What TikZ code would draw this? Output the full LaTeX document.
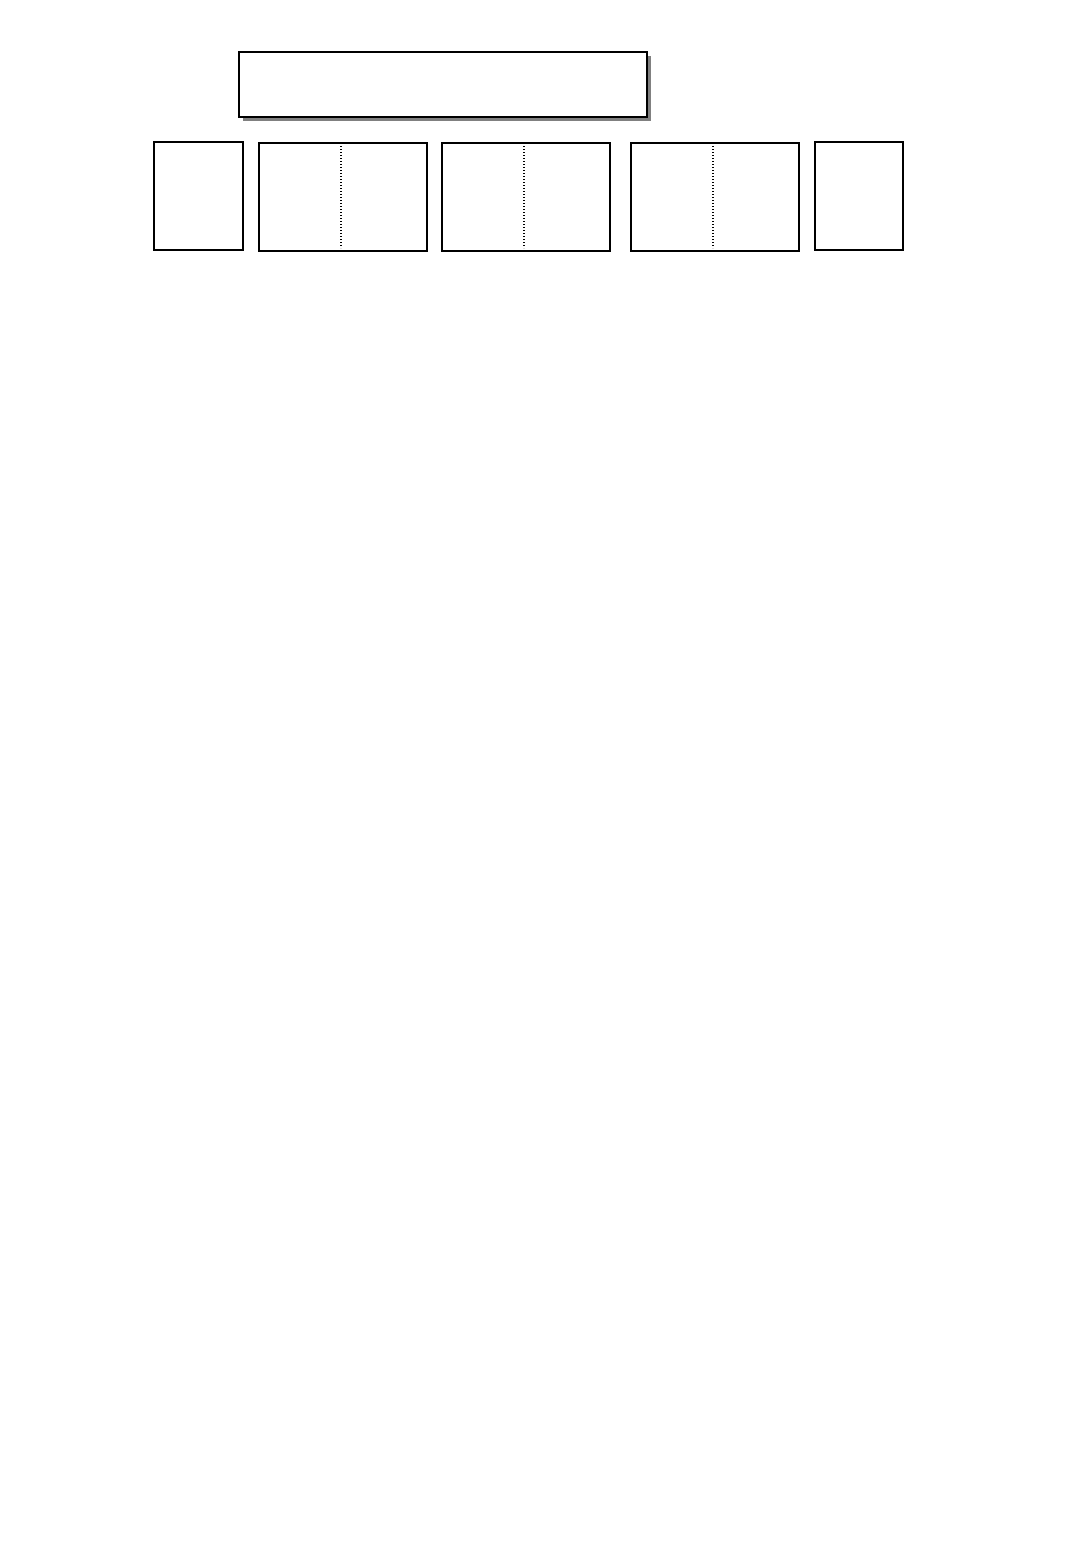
\documentclass[tikz,border=0pt]{standalone}
\usetikzlibrary{shadows}
\begin{document}
\begin{tikzpicture}[x=1pt,y=-1pt,
  box/.style={draw=black, line width=2pt, fill=white, inner sep=0pt, anchor=north west},
  shadowbox/.style={box, drop shadow={shadow xshift=4pt, shadow yshift=-4pt, fill=black!50, opacity=1}},
  divider/.style={black, line width=1.4pt, dash pattern=on 1.4pt off 1.6pt}]
\useasboundingbox (0,0) rectangle (1080,1560);
\fill[white] (0,0) rectangle (1080,1560);
\node[shadowbox, minimum width=408pt, minimum height=65pt] (title) at (238,51) {};
\node[box, minimum width=89pt, minimum height=108pt] (b1) at (153,141) {};
\node[box, minimum width=168pt, minimum height=108pt] (b2) at (258,142) {};
\node[box, minimum width=168pt, minimum height=108pt] (b3) at (441,142) {};
\node[box, minimum width=168pt, minimum height=108pt] (b4) at (630,142) {};
\node[box, minimum width=88pt, minimum height=108pt] (b5) at (814,141) {};
\draw[divider] ([xshift=-2pt,yshift=-4pt]b2.north) -- ([xshift=-2pt,yshift=4pt]b2.south);
\draw[divider] ([xshift=-2pt,yshift=-4pt]b3.north) -- ([xshift=-2pt,yshift=4pt]b3.south);
\draw[divider] ([xshift=-2pt,yshift=-4pt]b4.north) -- ([xshift=-2pt,yshift=4pt]b4.south);
\end{tikzpicture}
\end{document}
